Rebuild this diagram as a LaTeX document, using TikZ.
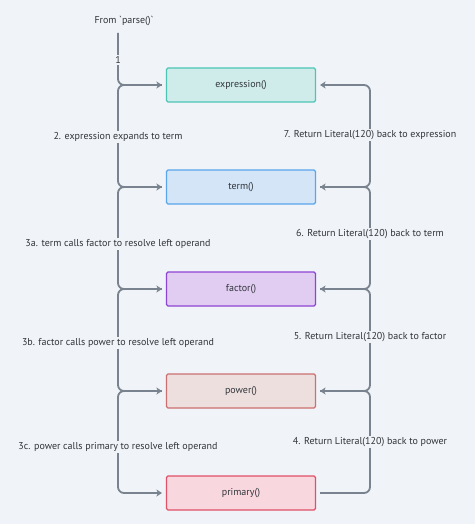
\documentclass[tikz,border=0pt]{standalone}
\usepackage{fontspec}
\setmainfont{PT Sans}
\usetikzlibrary{arrows.meta,calc}
\definecolor{bg}{HTML}{F0F3F7}
\definecolor{conn}{HTML}{78838F}
\definecolor{txt}{HTML}{30353B}
\definecolor{exF}{HTML}{CFECEA}\definecolor{exD}{HTML}{4CC5B5}
\definecolor{teF}{HTML}{D4E5F7}\definecolor{teD}{HTML}{5AA5EC}
\definecolor{faF}{HTML}{E2CDF2}\definecolor{faD}{HTML}{8E44D3}
\definecolor{poF}{HTML}{EEDFDF}\definecolor{poD}{HTML}{CC7070}
\definecolor{prF}{HTML}{F8D8DE}\definecolor{prD}{HTML}{E05068}
\tikzset{
  fnbox/.style={draw, line width=1.1pt, rounded corners=1.5pt, minimum width=149pt, minimum height=34pt, inner sep=0pt, font=\fontsize{10}{11}\selectfont, text=txt},
  conn/.style={draw=conn, line width=1.8pt, rounded corners=6pt, -{Stealth[length=5.5pt,width=7pt,inset=1.5pt]}, shorten >=4pt, shorten <=4pt},
  lbl/.style={fill=bg, inner sep=1.5pt, font=\fontsize{10}{11}\selectfont, text=txt},
}
\begin{document}
\begin{tikzpicture}[x=1pt,y=-1pt]
\fill[bg] (0,0) rectangle (475,524);
\useasboundingbox (0,0) rectangle (475,524);
\coordinate (L) at (118,0);
\coordinate (R) at (370,0);
\coordinate (start) at (118,33);
\node[fnbox, fill=exF, draw=exD] (expr) at (241,85) {expression()};
\node[fnbox, fill=teF, draw=teD] (term) at (241,187) {term()};
\node[fnbox, fill=faF, draw=faD] (fact) at (241,289) {factor()};
\node[fnbox, fill=poF, draw=poD] (pow) at (241,391) {power()};
\node[fnbox, fill=prF, draw=prD] (prim) at (241,493) {primary()};
\node[lbl, fill=none] (from) at (124,21) {From \textasciigrave parse()\textasciigrave};
% calls (left)
\draw[conn, shorten <=0pt] (start) |- (expr.west);
\draw[conn] (expr.west) -- (expr.west -| L) |- (term.west);
\draw[conn] (term.west) -- (term.west -| L) |- (fact.west);
\draw[conn] (fact.west) -- (fact.west -| L) |- (pow.west);
\draw[conn] (pow.west) -- (pow.west -| L) |- (prim.west);
% returns (right)
\draw[conn] (prim.east) -- (prim.east -| R) |- (pow.east);
\draw[conn] (pow.east) -- (pow.east -| R) |- (fact.east);
\draw[conn] (fact.east) -- (fact.east -| R) |- (term.east);
\draw[conn] (term.east) -- (term.east -| R) |- (expr.east);
% labels
\node[lbl] (l1) at (118,60) {1};
\node[lbl] (l2) at (118,137) {2. expression expands to term};
\node[lbl] (l3a) at (118,244) {3a. term calls factor to resolve left operand};
\node[lbl] (l3b) at (118,343) {3b. factor calls power to resolve left operand};
\node[lbl] (l3c) at (118,447) {3c. power calls primary to resolve left operand};
\node[lbl] (l7) at (370,135) {7. Return Literal(120) back to expression};
\node[lbl] (l6) at (370,234) {6. Return Literal(120) back to term};
\node[lbl] (l5) at (370,337) {5. Return Literal(120) back to factor};
\node[lbl] (l4) at (370,442) {4. Return Literal(120) back to power};
\end{tikzpicture}
\end{document}
